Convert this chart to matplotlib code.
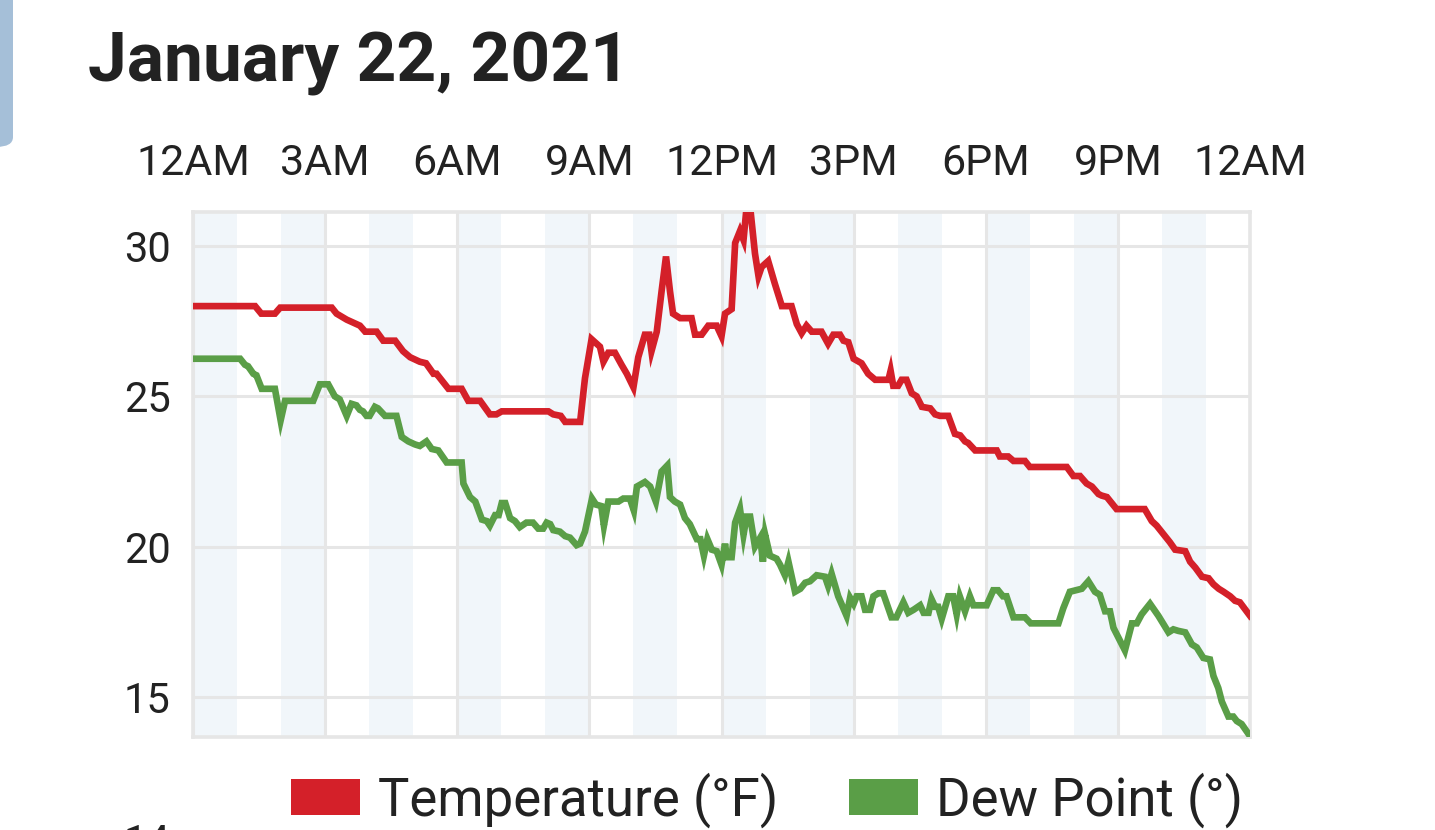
import numpy as np
import matplotlib.pyplot as plt
from matplotlib.patches import Patch, FancyBboxPatch

plt.rcParams['font.family'] = ['Roboto', 'DejaVu Sans']

# hours since midnight, temperature (F)
temp_hours = [0.0, 1.41, 1.55, 1.86, 1.98, 3.15, 3.26, 3.49, 3.79, 3.91, 4.17, 4.32, 4.59,
              4.77, 4.93, 5.15, 5.29, 5.46, 5.53, 5.8, 6.1, 6.25, 6.52, 6.74, 6.89, 7.01,
              8.07, 8.18, 8.35, 8.45, 8.79, 8.9, 8.98, 9.05, 9.24, 9.32, 9.43, 9.58, 9.73,
              9.85, 10.0, 10.11, 10.26, 10.36, 10.41, 10.53, 10.64, 10.74, 10.83, 10.9,
              11.06, 11.32, 11.4, 11.55, 11.7, 11.89, 12.0, 12.08, 12.23, 12.31, 12.42,
              12.5, 12.57, 12.65, 12.76, 12.84, 12.91, 13.06, 13.21, 13.37, 13.59, 13.71,
              13.82, 13.93, 14.05, 14.27, 14.42, 14.54, 14.69, 14.77, 14.88, 15.0, 15.18,
              15.33, 15.49, 15.79, 15.84, 15.9, 16.01, 16.09, 16.2, 16.32, 16.43, 16.55,
              16.74, 16.85, 16.96, 17.15, 17.3, 17.42, 17.53, 17.6, 17.76, 18.25, 18.32,
              18.51, 18.63, 18.89, 19.0, 19.84, 19.99, 20.14, 20.29, 20.41, 20.56, 20.63,
              20.75, 20.97, 21.61, 21.77, 21.88, 22.18, 22.3, 22.53, 22.64, 22.76, 22.91,
              23.06, 23.17, 23.29, 23.4, 23.55, 23.66, 23.77, 24.0]
temp_values = [28.0, 28.0, 27.75, 27.75, 27.95, 27.95, 27.75, 27.55, 27.35, 27.15, 27.15,
               26.85, 26.85, 26.5, 26.3, 26.15, 26.1, 25.75, 25.75, 25.25, 25.25, 24.85,
               24.85, 24.4, 24.4, 24.5, 24.5, 24.4, 24.35, 24.15, 24.15, 25.6, 26.3, 26.9,
               26.65, 26.15, 26.45, 26.45, 26.05, 25.75, 25.3, 26.3, 27.05, 27.05, 26.5,
               27.15, 28.5, 29.65, 28.5, 27.75, 27.6, 27.6, 27.05, 27.05, 27.35, 27.35,
               27.0, 27.75, 27.9, 30.1, 30.5, 30.2, 31.3, 31.3, 29.75, 29.0, 29.3, 29.5,
               28.75, 28.0, 28.0, 27.4, 27.1, 27.35, 27.15, 27.15, 26.75, 27.05, 27.05,
               26.85, 26.8, 26.25, 26.1, 25.75, 25.55, 25.55, 25.85, 25.35, 25.35, 25.55,
               25.55, 25.1, 25.0, 24.65, 24.6, 24.4, 24.35, 24.35, 23.75, 23.7, 23.5,
               23.45, 23.2, 23.2, 23.0, 23.0, 22.85, 22.85, 22.65, 22.65, 22.35, 22.35,
               22.1, 22.0, 21.75, 21.7, 21.65, 21.25, 21.25, 20.85, 20.7, 20.15, 19.9,
               19.85, 19.5, 19.3, 19.0, 18.95, 18.75, 18.6, 18.5, 18.35, 18.2, 18.15, 17.7]

# hours since midnight, dew point
dew_hours = [0.0, 1.07, 1.18, 1.25, 1.37, 1.44, 1.56, 1.86, 1.94, 1.99, 2.09, 2.73, 2.88,
             3.07, 3.22, 3.33, 3.49, 3.6, 3.71, 3.79, 3.86, 3.94, 4.01, 4.13, 4.2, 4.36,
             4.62, 4.74, 4.89, 5.04, 5.15, 5.3, 5.42, 5.57, 5.76, 6.1, 6.14, 6.29, 6.41,
             6.56, 6.67, 6.74, 6.86, 6.94, 7.01, 7.09, 7.2, 7.31, 7.42, 7.57, 7.72, 7.84,
             7.95, 8.03, 8.11, 8.18, 8.33, 8.45, 8.56, 8.71, 8.79, 8.9, 9.06, 9.15, 9.27,
             9.33, 9.43, 9.66, 9.77, 9.92, 10.01, 10.08, 10.26, 10.38, 10.51, 10.64,
             10.77, 10.83, 10.94, 11.06, 11.17, 11.28, 11.44, 11.52, 11.6, 11.68, 11.78,
             11.89, 12.0, 12.08, 12.12, 12.23, 12.31, 12.42, 12.5, 12.57, 12.65, 12.76,
             12.88, 12.94, 12.99, 13.1, 13.25, 13.33, 13.44, 13.52, 13.67, 13.79, 13.9,
             14.01, 14.16, 14.35, 14.42, 14.5, 14.65, 14.84, 14.92, 15.0, 15.07, 15.18,
             15.26, 15.37, 15.45, 15.56, 15.67, 15.86, 15.97, 16.13, 16.24, 16.36, 16.51,
             16.59, 16.7, 16.77, 16.85, 16.92, 17.0, 17.15, 17.26, 17.34, 17.41, 17.53,
             17.64, 17.72, 18.02, 18.17, 18.28, 18.39, 18.47, 18.63, 18.89, 19.02, 19.65,
             19.76, 19.91, 20.18, 20.33, 20.48, 20.59, 20.71, 20.82, 20.9, 21.16, 21.32,
             21.43, 21.54, 21.73, 21.92, 22.15, 22.26, 22.37, 22.53, 22.68, 22.79, 22.94,
             23.09, 23.17, 23.28, 23.36, 23.51, 23.62, 23.7, 23.81, 24.0]
dew_values = [26.25, 26.25, 26.05, 26.0, 25.75, 25.7, 25.25, 25.25, 24.6, 24.2, 24.85,
              24.85, 25.4, 25.4, 25.0, 24.9, 24.35, 24.75, 24.7, 24.55, 24.5, 24.35, 24.35,
              24.65, 24.6, 24.35, 24.35, 23.65, 23.5, 23.4, 23.35, 23.5, 23.25, 23.2, 22.8,
              22.8, 22.1, 21.65, 21.5, 20.9, 20.85, 20.7, 21.05, 21.05, 21.45, 21.45, 20.95,
              20.85, 20.65, 20.8, 20.8, 20.6, 20.6, 20.8, 20.75, 20.55, 20.5, 20.35, 20.3,
              20.05, 20.1, 20.5, 21.6, 21.4, 21.35, 20.7, 21.5, 21.5, 21.6, 21.6, 21.2,
              22.0, 22.15, 22.0, 21.5, 22.5, 22.7, 21.65, 21.5, 21.4, 20.95, 20.75, 20.25,
              20.25, 19.7, 20.25, 19.9, 19.85, 19.4, 20.1, 19.65, 19.65, 20.8, 21.25, 20.4,
              21.0, 21.0, 20.0, 20.3, 19.5, 20.4, 19.7, 19.6, 19.4, 19.05, 19.5, 18.5, 18.6,
              18.8, 18.85, 19.05, 19.0, 18.7, 19.1, 18.35, 17.7, 18.3, 18.1, 18.35, 18.35,
              17.9, 17.9, 18.35, 18.45, 18.45, 17.65, 17.65, 18.15, 17.8, 17.9, 18.05, 17.8,
              17.8, 18.25, 18.0, 18.0, 17.6, 18.35, 18.35, 17.75, 18.35, 17.85, 18.35,
              18.05, 18.05, 18.55, 18.55, 18.35, 18.35, 17.65, 17.65, 17.45, 17.45, 17.95,
              18.5, 18.6, 18.85, 18.5, 18.4, 17.85, 17.85, 17.3, 16.55, 17.45, 17.45, 17.75,
              18.1, 17.7, 17.15, 17.25, 17.2, 17.15, 16.75, 16.65, 16.3, 16.25, 15.7, 15.3,
              14.85, 14.35, 14.35, 14.2, 14.1, 13.7]

tick_hours = [0, 3, 6, 9, 12, 15, 18, 21, 24]
tick_labels = ['12AM', '3AM', '6AM', '9AM', '12PM', '3PM', '6PM', '9PM', '12AM']
y_ticks = [15, 20, 25, 30]
series_names = ['Temperature (°F)', 'Dew Point (°)']

red = '#d42029'
green = '#5a9e47'
grid_c = '#e6e6e6'
text_c = '#222222'

fig = plt.figure(figsize=(14.35, 8.3), dpi=100)
ax = fig.add_axes([193 / 1435, 1 - 737 / 830, (1250 - 193) / 1435, (737 - 212) / 830])

# alternating hour bands
for h in range(0, 24, 2):
    ax.axvspan(h, h + 1, color='#f1f6fa', lw=0, zorder=0)

ax.plot(temp_hours, temp_values, color=red, lw=4.8, solid_joinstyle='miter', zorder=3)
ax.plot(dew_hours, dew_values, color=green, lw=4.8, solid_joinstyle='miter', zorder=3)

ax.set_xlim(0, 24)
ax.set_ylim(13.67, 31.13)
ax.set_xticks(tick_hours)
ax.set_xticklabels(tick_labels)
ax.set_yticks(y_ticks)
ax.xaxis.tick_top()
ax.tick_params(axis='x', length=0, pad=20, labelsize=31, labelcolor=text_c)
ax.tick_params(axis='y', length=0, pad=16, labelsize=30, labelcolor=text_c)
ax.grid(True, color=grid_c, lw=2.2, zorder=1)
ax.set_axisbelow(True)
for s in ax.spines.values():
    s.set_color(grid_c)
    s.set_linewidth(2.6)

fig.text(88 / 1435, 1 - 82 / 830, 'January 22, 2021', fontsize=50, fontweight='bold',
         color=text_c, ha='left', va='baseline')

# partly hidden label at the bottom edge, cut off as in the source screenshot
fig.text(147 / 1435, 1 - 823 / 830, '14', fontsize=30, color=text_c, ha='center', va='top')

# tab at left edge
tab = FancyBboxPatch((-20 / 1435, 1 - 147 / 830), 33 / 1435, 170 / 830,
                     boxstyle='round,pad=0,rounding_size=0.012', transform=fig.transFigure,
                     facecolor='#a5bfd8', edgecolor='none')
fig.add_artist(tab)

handles = [Patch(facecolor=red, edgecolor='none'), Patch(facecolor=green, edgecolor='none')]
fig.legend(handles, series_names, loc='center', bbox_to_anchor=(767 / 1435, 1 - 800 / 830),
           ncol=2, frameon=False, fontsize=38, handlelength=1.31, handleheight=0.66,
           handletextpad=0.34, columnspacing=1.35, borderpad=0, labelcolor=text_c)

fig.savefig('out.png', dpi=100)
